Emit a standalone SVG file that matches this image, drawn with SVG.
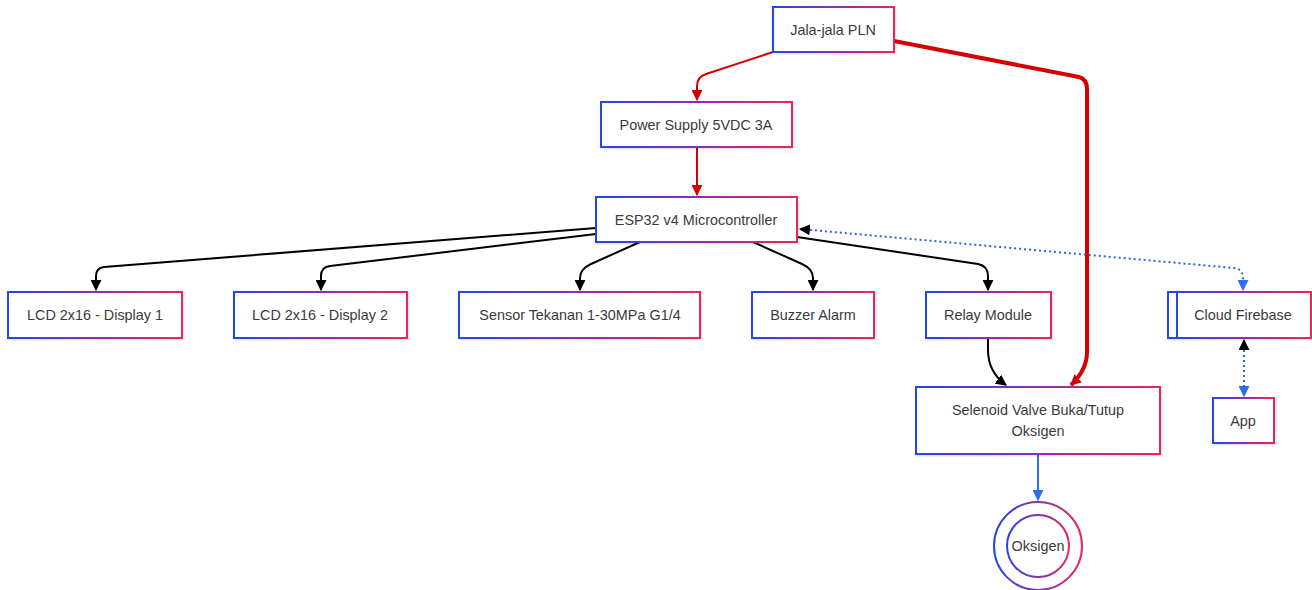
<svg xmlns="http://www.w3.org/2000/svg" width="1312" height="590" viewBox="0 0 1312 590">
<style>
.box{fill:#ffffff;stroke:url(#g);stroke-width:2;filter:url(#sh)}
.t{font-family:"Liberation Sans",Arial,sans-serif;font-size:14.4px;fill:#3a3a3a;text-anchor:middle;dominant-baseline:central}
.blk{fill:none;stroke:#000000;stroke-width:2}
.red{fill:none;stroke:#d40000;stroke-width:2}
.redthick{fill:none;stroke:#d40000;stroke-width:4}
.dot{fill:none;stroke:#2f63e0;stroke-width:2;stroke-dasharray:2 3}
.blue{fill:none;stroke:#2f6cf0;stroke-width:2}
</style>
<defs>
<linearGradient id="g" x1="0" y1="0" x2="1" y2="0">
<stop offset="0" stop-color="#2346e8"/>
<stop offset="0.5" stop-color="#8a2fb0"/>
<stop offset="1" stop-color="#e8285a"/>
</linearGradient>
<filter id="sh" x="-10%" y="-20%" width="120%" height="140%">
<feDropShadow dx="1" dy="1" stdDeviation="1" flood-color="#000" flood-opacity="0.15"/>
</filter>
<marker id="aBlk" viewBox="0 0 10 10" refX="9" refY="5" markerWidth="11" markerHeight="11" markerUnits="userSpaceOnUse" orient="auto-start-reverse"><path d="M0,0 L10,5 L0,10 z" fill="#000"/></marker>
<marker id="aRed" viewBox="0 0 10 10" refX="9" refY="5" markerWidth="11" markerHeight="11" markerUnits="userSpaceOnUse" orient="auto"><path d="M0,0 L10,5 L0,10 z" fill="#d40000"/></marker>
<marker id="aBlue" viewBox="0 0 10 10" refX="9" refY="5" markerWidth="11" markerHeight="11" markerUnits="userSpaceOnUse" orient="auto"><path d="M0,0 L10,5 L0,10 z" fill="#2f6cf0"/></marker>
</defs>

<g id="connectors">
<path class="red" d="M773,52 L706,74 Q697,77 697,86 L697,100" marker-end="url(#aRed)"/>
<path class="red" d="M697,147 L697,195" marker-end="url(#aRed)"/>
<path class="redthick" d="M894,41 L1079,77 Q1087,79 1087,89 L1087,352 Q1087,370 1071,385" marker-end="url(#aRed)"/>
<path class="blk" d="M596,228 L104,267 Q96,268 96,276 L96,290" marker-end="url(#aBlk)"/>
<path class="blk" d="M596,234 L330,266 Q321,267 321,276 L321,290" marker-end="url(#aBlk)"/>
<path class="blk" d="M640,242 L591,264 Q580,269 580,278 L580,290" marker-end="url(#aBlk)"/>
<path class="blk" d="M753,242 L802,264 Q813,269 813,278 L813,290" marker-end="url(#aBlk)"/>
<path class="blk" d="M797,237 L978,264 Q988,266 988,276 L988,290" marker-end="url(#aBlk)"/>
<path class="dot" d="M800,229 L1234,268 Q1243,269 1243,278 L1243,290" marker-start="url(#aBlk)" marker-end="url(#aBlue)"/>
<path class="dot" d="M1244,340 L1244,396" marker-start="url(#aBlk)" marker-end="url(#aBlue)"/>
<path class="blk" d="M988,338 L988,350 Q988,372 1006,385" marker-end="url(#aBlk)"/>
<path class="blue" d="M1038,454 L1038,500" marker-end="url(#aBlue)"/>
</g>

<g id="jala"><rect class="box" x="773" y="7" width="121" height="45"/><text class="t" x="833" y="30">Jala-jala PLN</text></g>
<g id="power"><rect class="box" x="601" y="102" width="191" height="45"/><text class="t" x="696" y="125">Power Supply 5VDC 3A</text></g>
<g id="esp32"><rect class="box" x="596" y="197" width="201" height="45"/><text class="t" x="696" y="220">ESP32 v4 Microcontroller</text></g>
<g id="lcd1"><rect class="box" x="8" y="292" width="174" height="46"/><text class="t" x="95" y="315">LCD 2x16 - Display 1</text></g>
<g id="lcd2"><rect class="box" x="234" y="292" width="173" height="46"/><text class="t" x="320" y="315">LCD 2x16 - Display 2</text></g>
<g id="sensor"><rect class="box" x="459" y="292" width="241" height="46"/><text class="t" x="580" y="315">Sensor Tekanan 1-30MPa G1/4</text></g>
<g id="buzzer"><rect class="box" x="752" y="292" width="122" height="46"/><text class="t" x="813" y="315">Buzzer Alarm</text></g>
<g id="relay"><rect class="box" x="926" y="292" width="125" height="46"/><text class="t" x="988" y="315">Relay Module</text></g>
<g id="cloud"><rect class="box" x="1168" y="292" width="143" height="46"/><line x1="1177" y1="292" x2="1177" y2="338" stroke="#2846e6" stroke-width="2"/><text class="t" x="1243" y="315">Cloud Firebase</text></g>
<g id="selenoid"><rect class="box" x="916" y="387" width="244" height="67"/><text class="t" x="1038" y="410">Selenoid Valve Buka/Tutup</text><text class="t" x="1038" y="431">Oksigen</text></g>
<g id="app"><rect class="box" x="1213" y="398" width="61" height="45"/><text class="t" x="1243" y="421">App</text></g>
<g id="oksigen"><circle cx="1038" cy="546" r="44" fill="#fff" stroke="url(#g)" stroke-width="2"/><circle cx="1038" cy="546" r="31" fill="#fff" stroke="url(#g)" stroke-width="2"/><text class="t" x="1038" y="546">Oksigen</text></g>
</svg>
